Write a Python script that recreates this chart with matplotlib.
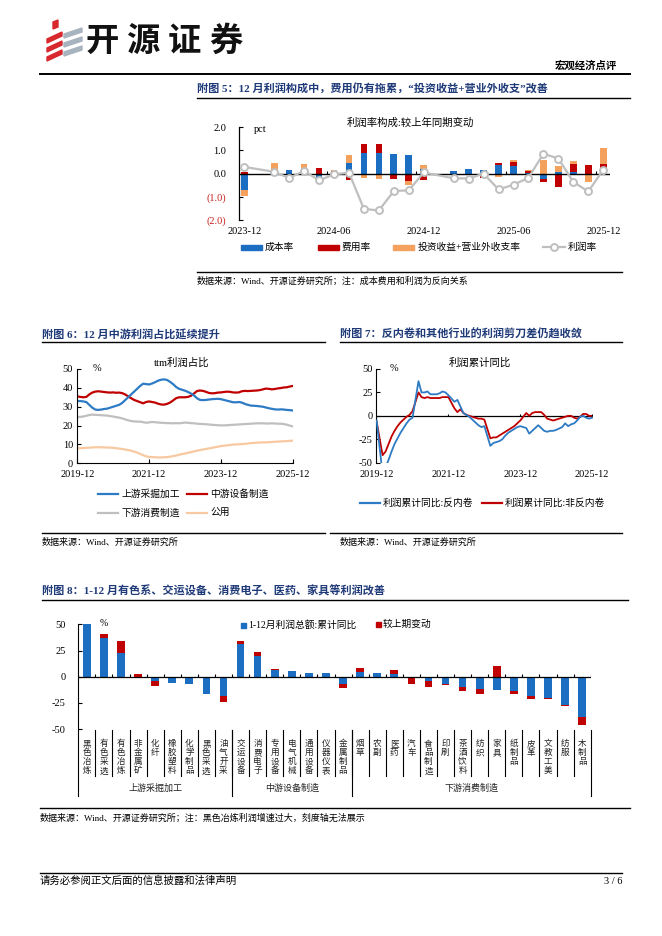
import numpy as np
import matplotlib
matplotlib.use('Agg')
import matplotlib.pyplot as plt
import matplotlib.transforms as mtransforms
from matplotlib.lines import Line2D
from matplotlib.patches import Rectangle, Polygon

W, H = 662, 936
plt.rcParams['font.family'] = ['Liberation Serif', 'Noto Sans CJK SC']
plt.rcParams['axes.unicode_minus'] = False

NAVY = '#1F3A78'
BLUE = '#1B6EC2'
RED = '#C00000'
ORANGE = '#F4A15D'
GRAY = '#BFBFBF'
PEACH = '#F8C9A0'

# ---------------- data: figure 5 ----------------
months5 = ['2023-12', '2024-02', '2024-03', '2024-04', '2024-05', '2024-06', '2024-07',
           '2024-08', '2024-09', '2024-10', '2024-11', '2024-12', '2025-02', '2025-03',
           '2025-04', '2025-05', '2025-06', '2025-07', '2025-08', '2025-09', '2025-10',
           '2025-11', '2025-12']
cost5 = [-0.72, 0.08, 0.15, 0.05, -0.18, 0.02, 0.46, 0.91, 0.91, 0.83, 0.81, 0.20,
         0.12, 0.22, 0.17, 0.36, 0.33, 0.02, -0.22, 0.07, 0.07, 0.00, 0.05]
expense5 = [0.07, 0.02, 0.00, 0.08, 0.26, 0.08, -0.29, 0.36, 0.39, -0.22, -0.33, -0.26,
            -0.03, 0.00, -0.20, 0.10, 0.17, 0.10, -0.12, -0.58, 0.33, 0.36, 0.38]
invest5 = [-0.26, 0.38, 0.00, 0.28, -0.20, 0.06, 0.36, -0.17, -0.25, 0.00, -0.14, 0.19,
           0.00, 0.00, 0.00, -0.15, 0.07, 0.03, 0.58, 0.26, 0.13, -0.38, 0.69]
margin5 = [0.29, 0.08, -0.19, 0.12, -0.29, -0.03, 0.04, -1.52, -1.59, -0.75, -0.72, 0.05,
           -0.20, -0.21, 0.00, -0.68, -0.48, -0.18, 0.86, 0.65, -0.36, -0.77, 0.17]
ticks5 = ['2023-12', '2024-06', '2024-12', '2025-06', '2025-12']

# ---------------- data: figure 6 (2019-12 .. 2025-12 monthly) ----------------
up6 = [33, 33, 32.8, 32.5, 31, 29.5, 28.5, 28.3, 28.5, 28.8, 29, 29.5, 30, 30.5, 31, 32,
       33.5, 35, 36.5, 38, 39.5, 41, 42.2, 42, 41.8, 42.3, 43, 43.8, 44.3, 44.5, 44.2, 43.2,
       42, 40.5, 39.5, 39, 38.5, 37.8, 37, 36, 34.5, 33.6, 33.5, 33.6, 33.8, 34, 34.1, 34.2,
       34, 33.6, 33.2, 32.8, 32.4, 32.3, 32.5, 32.2, 31.5, 31, 30.6, 30.5, 30.4, 30.2, 30,
       29.6, 29.2, 28.9, 28.6, 28.5, 28.6, 28.5, 28.3, 28.2, 28]
mid6 = [35.5, 35.2, 35, 35.2, 36.5, 37.5, 38, 38.2, 38, 37.8, 37.6, 37.5, 37.6, 37.4, 37.5,
        37.2, 36.5, 35.5, 34.5, 33.6, 33, 32.4, 31.8, 32.5, 32.8, 32.5, 32.2, 31.6, 31.2,
        31.1, 31.5, 32.2, 33.3, 34.5, 35, 35, 35, 35.2, 35.8, 37, 38.3, 38.6, 38.4, 37.9,
        37.3, 37.1, 37.2, 37.5, 37.6, 37.8, 38, 37.9, 37.6, 37.5, 37.6, 38.2, 38.4, 38.3,
        38.4, 38.5, 38.6, 38.8, 39.2, 39.6, 39.5, 39.2, 39.4, 39.7, 39.9, 40.2, 40.3, 40.7, 41]
down6 = [24.5, 24.6, 24.8, 25.2, 25.6, 25.8, 25.7, 25.6, 25.5, 25.4, 25.3, 25, 24.8, 24.5,
         24.2, 23.8, 23.3, 22.8, 22.4, 22.2, 22.1, 22.1, 21.8, 21.5, 21.7, 21.9, 21.8, 21.6,
         21.5, 21.4, 21.3, 21.3, 21.2, 21.3, 21.2, 21.4, 21.6, 21.5, 21.3, 21.2, 21, 20.9,
         20.8, 20.7, 20.6, 20.4, 20.3, 20.2, 20.1, 20.1, 20.2, 20.3, 20.4, 20.5, 20.6, 20.7,
         20.8, 20.9, 21, 21.1, 21.2, 21.2, 21.2, 21.1, 21.1, 21.2, 21.1, 21, 21, 20.8, 20.5,
         20, 19.6]
util6 = [8, 8, 8.1, 8.2, 8.3, 8.4, 8.5, 8.5, 8.5, 8.4, 8.4, 8.3, 8.2, 8, 7.8, 7.6, 7.3, 7,
         6.7, 6.2, 5.7, 5.0, 4.3, 3.7, 3.4, 3.3, 3.2, 3.1, 3.1, 3.2, 3.3, 3.5, 3.8, 4.1, 4.5,
         4.9, 5.2, 5.6, 5.9, 6.3, 6.7, 7, 7.3, 7.6, 7.9, 8.2, 8.5, 8.8, 9.1, 9.3, 9.5, 9.7,
         9.9, 10, 10.1, 10.2, 10.3, 10.5, 10.7, 10.8, 10.9, 11, 11.1, 11.1, 11.2, 11.3, 11.4,
         11.5, 11.6, 11.7, 11.8, 11.9, 12]
ticks6 = ['2019-12', '2021-12', '2023-12', '2025-12']

# ---------------- data: figure 7 (None = January, not published) ----------------
anti7 = [-5, None, -62, -55, -47, -38, -30, -24, -18, -13, -8, -4, -2, None, 37, 25, 25, 26,
         23, 23, 23, 24, 26, 25, 22, None, 15, 17, 10, 3, 1, -1, -4, -7, -10, -12, -11, None,
         -32, -29, -28, -27, -25, -21, -18, -16, -14, -12, -11, None, -13, -19, -16, -13, -10,
         -13, -16, -17, -16, -16, -15, None, -12, -8, -11, -9, -8, -5, -1, 0, -2, -3, -2]
other7 = [-6, None, -42, -38, -30, -22, -16, -11, -7, -4, -1, 1, 5, None, 25, 20, 19, 20, 19,
          19, 19, 19, 20, 20, 20, None, 8, 4, 7, 3, 1, 0, -1, -2, -3, -3, -4, None, -24, -23,
          -23, -21, -19, -17, -15, -13, -11, -8, -5, None, 3, 0, 3, 4, 4, 4, 1, -3, -4, -5,
          -4, None, -2, -1, 0, 0, -2, -3, -1, 2, 2, 0, 0]

# ---------------- data: figure 8 ----------------
cats8 = ['黑色冶炼', '有色采选', '有色冶炼', '非金属矿', '化纤', '橡胶塑料', '化学制品', '黑色采选',
         '油气开采', '交运设备', '消费电子', '专用设备', '电气机械', '通用设备', '仪器仪表', '金属制品',
         '烟草', '农副', '医药', '汽车', '食品制造', '印刷', '茶酒饮料', '纺织', '家具', '纸制品',
         '皮革', '文教工美', '纺服', '木制品']
cum8 = [150, 36.5, 23, -1.2, -4.5, -5.8, -7.4, -16.1, -18.7, 30.8, 19.5, 6.2, 5.5, 4.0, 3.4,
        -7.1, 4.5, 3.2, 2.8, -0.5, -4.5, -6.7, -9.7, -11.9, -12.5, -13.9, -18.4, -20.6, -27.4,
        -38.7]
chg8 = [0, 3.8, 11.5, 2.8, -3.9, 0, 0, 0, -5.5, 3.7, 4.5, 0.7, 0.3, 0, 0.3, -3.5, 3.6, -1.3,
        3.6, -6.5, -5.2, -1.4, -4.2, -4.2, 10.6, -2.9, -2.6, -0.7, -0.6, -7.4]
groups8 = ['上游采掘加工', '中游设备制造', '下游消费制造']
group_sizes8 = [9, 7, 14]

fig = plt.figure(figsize=(W / 100, H / 100), dpi=100)


def fx(x):
    return x / W


def fy(y):
    return 1 - y / H


def axes_px(x0, y0, x1, y1):
    return fig.add_axes([fx(x0), fy(y1), (x1 - x0) / W, (y1 - y0) / H])


def text_px(x, y, s, **kw):
    kw.setdefault('va', 'center')
    kw.setdefault('fontsize', 7)
    return fig.text(fx(x), fy(y), s, **kw)


def hline_px(y, x0, x1, lw=1.0, color='black'):
    fig.add_artist(Line2D([fx(x0), fx(x1)], [fy(y), fy(y)], lw=lw, color=color))


def patch_px(x, y, w, h, color):
    fig.add_artist(Rectangle((fx(x), fy(y + h / 2)), w / W, h / H, color=color,
                             transform=fig.transFigure))


def line_key_px(x0, x1, y, color, marker=None):
    fig.add_artist(Line2D([fx(x0), fx(x1)], [fy(y), fy(y)], lw=1.6, color=color))
    if marker:
        fig.add_artist(Line2D([fx((x0 + x1) / 2)], [fy(y)], marker='o', ms=5, mfc='white',
                              mec=color, mew=1.4, color=color))


def month_index(s, base):
    y, m = map(int, s.split('-'))
    by, bm = map(int, base.split('-'))
    return (y - by) * 12 + m - bm


# ---------------- page header ----------------
for k in range(3):
    yc = 33 + 9 * k
    fig.add_artist(Polygon([(fx(47), fy(yc + 6)), (fx(62), fy(yc - 1)), (fx(62), fy(yc + 3)),
                            (fx(47), fy(yc + 10))], closed=True, color='#D8282E'))
    fig.add_artist(Polygon([(fx(64), fy(yc + 1)), (fx(82), fy(yc - 5)), (fx(82), fy(yc - 1)),
                            (fx(64), fy(yc + 5))], closed=True, color='#A7B3BE'))
fig.add_artist(Polygon([(fx(53), fy(22)), (fx(58), fy(20)), (fx(58), fy(27)), (fx(53), fy(29))],
                       closed=True, color='#D8282E'))
for ch, xc in zip('开源证券', [102, 143, 184, 226]):
    text_px(xc, 41, ch, fontsize=24, fontweight='bold', ha='center',
            family='Noto Sans CJK SC', color='#111111')
text_px(617, 66, '宏观经济点评', fontsize=7.5, fontweight='bold', ha='right')
hline_px(74, 40, 630, lw=1.4)

# ---------------- figure 5 ----------------
text_px(197, 89, '附图 5：12 月利润构成中，费用仍有拖累，“投资收益+营业外收支”改善',
        fontsize=8, fontweight='bold', color=NAVY)
hline_px(98, 197, 630, lw=1.0)

ax5 = axes_px(239, 127.3, 610, 220)
x5 = np.array([month_index(s, months5[0]) for s in months5])
pos = np.zeros(len(x5))
neg = np.zeros(len(x5))
for vals, col in [(cost5, BLUE), (expense5, RED), (invest5, ORANGE)]:
    v = np.array(vals)
    bottom = np.where(v >= 0, pos, neg)
    ax5.bar(x5, v, 0.45, bottom=bottom, color=col, zorder=2)
    pos = pos + np.clip(v, 0, None)
    neg = neg + np.clip(v, None, 0)
ax5.axhline(0, color='black', lw=1.0, zorder=3)
ax5.plot(x5, margin5, color=GRAY, lw=1.6, marker='o', ms=5, mfc='white', mec=GRAY, mew=1.4,
         zorder=4)
tx5 = np.array([month_index(s, months5[0]) for s in ticks5])
ax5.vlines(tx5[1:] - 0.5, 0, 0.12, color='black', lw=0.8, zorder=3)
ax5.set_xlim(-0.35, 24.45)
ax5.set_ylim(-2, 2)
ax5.set_xticks(tx5)
ax5.set_xticklabels(ticks5, fontsize=7.5)
ax5.set_yticks([2, 1, 0, -1, -2])
ylab5 = ax5.set_yticklabels(['2.0', '1.0', '0.0', '(1.0)', '(2.0)'], fontsize=7.5)
for t, v in zip(ylab5, [2, 1, 0, -1, -2]):
    if v < 0:
        t.set_color('#C8201E')
for s in ['top', 'right', 'bottom']:
    ax5.spines[s].set_visible(False)
ax5.spines['left'].set_linewidth(0.9)
ax5.tick_params(axis='x', length=0, pad=5)
ax5.tick_params(axis='y', direction='in', length=3, width=0.8, pad=9)
ax5.patch.set_alpha(0)
text_px(254, 130, 'pct', fontsize=7.5)
text_px(410, 123, '利润率构成:较上年同期变动', fontsize=7.5, ha='center')
patch_px(241, 247, 21, 5, BLUE)
text_px(265, 247, '成本率', fontsize=7)
patch_px(318, 247, 21, 5, RED)
text_px(342, 247, '费用率', fontsize=7)
patch_px(393, 247, 21, 5, ORANGE)
text_px(418, 247, '投资收益+营业外收支率', fontsize=7)
line_key_px(543, 565, 247, GRAY, marker=True)
text_px(568, 247, '利润率', fontsize=7)
hline_px(272, 197, 622, lw=1.0)
text_px(197, 281, '数据来源：Wind、开源证券研究所；注：成本费用和利润为反向关系', fontsize=6.5)

# ---------------- figure 6 ----------------
text_px(42, 334, '附图 6：12 月中游利润占比延续提升', fontsize=8, fontweight='bold', color=NAVY)
hline_px(342, 42, 325, lw=1.0)
ax6 = axes_px(77.3, 369, 292.7, 463.3)
x6 = np.arange(len(up6))
ax6.plot(x6, util6, color=PEACH, lw=1.6)
ax6.plot(x6, down6, color=GRAY, lw=1.6)
ax6.plot(x6, mid6, color=RED, lw=1.6)
ax6.plot(x6, up6, color='#2D7BC4', lw=1.6)
ax6.set_xlim(0, 72)
ax6.set_ylim(0, 50)
ax6.set_xticks([month_index(s, ticks6[0]) for s in ticks6])
ax6.set_xticklabels(ticks6, fontsize=7.5)
ax6.set_yticks(range(0, 51, 10))
ax6.tick_params(labelsize=7.5)
ax6.tick_params(axis='both', direction='in', length=3, width=0.8)
ax6.tick_params(axis='x', pad=5)
ax6.tick_params(axis='y', pad=3)
for s in ['top', 'right']:
    ax6.spines[s].set_visible(False)
ax6.patch.set_alpha(0)
text_px(93, 369, '%', fontsize=7.5)
text_px(182, 363, 'ttm利润占比', fontsize=7.5, ha='center')
line_key_px(98, 118, 494, '#2D7BC4')
text_px(122, 494, '上游采掘加工', fontsize=7)
line_key_px(187, 207, 494, RED)
text_px(210, 494, '中游设备制造', fontsize=7)
line_key_px(98, 118, 513, GRAY)
text_px(122, 513, '下游消费制造', fontsize=7)
line_key_px(187, 207, 513, PEACH)
text_px(210, 513, '公用', fontsize=7)
hline_px(533, 42, 325, lw=1.0)
text_px(42, 542, '数据来源：Wind、开源证券研究所', fontsize=6.5)

# ---------------- figure 7 ----------------
text_px(340, 334, '附图 7：反内卷和其他行业的利润剪刀差仍趋收敛', fontsize=8, fontweight='bold',
        color=NAVY)
hline_px(342, 340, 622, lw=1.0)
ax7 = axes_px(375.7, 369, 593, 462.7)
x7 = np.arange(len(anti7))
a7 = np.array([np.nan if v is None else v for v in anti7], dtype=float)
o7 = np.array([np.nan if v is None else v for v in other7], dtype=float)
ma = ~np.isnan(a7)
mo = ~np.isnan(o7)
ax7.axhline(0, color='black', lw=0.9, zorder=1)
ax7.plot(x7[ma], a7[ma], color='#2D7BC4', lw=1.3, zorder=3)
ax7.plot(x7[mo], o7[mo], color=RED, lw=1.3, zorder=2)
ax7.vlines([24, 48, 72], 0, 2.5, color='black', lw=0.8)
ax7.set_xlim(-0.3, 72.3)
ax7.set_ylim(-50, 50)
ax7.set_xticks([month_index(s, ticks6[0]) for s in ticks6])
ax7.set_xticklabels(ticks6, fontsize=7.5)
ax7.set_yticks([50, 25, 0, -25, -50])
ax7.tick_params(labelsize=7.5)
ax7.tick_params(axis='x', length=0, pad=5)
ax7.tick_params(axis='y', direction='in', length=3, width=0.8, pad=2)
for s in ['top', 'right', 'bottom']:
    ax7.spines[s].set_visible(False)
ax7.patch.set_alpha(0)
text_px(390, 369, '%', fontsize=7.5)
text_px(480, 363, '利润累计同比', fontsize=7.5, ha='center')
line_key_px(360, 380, 503, '#2D7BC4')
text_px(383, 503, '利润累计同比:反内卷', fontsize=7)
line_key_px(482, 502, 503, RED)
text_px(505, 503, '利润累计同比:非反内卷', fontsize=7)
hline_px(533, 330, 622, lw=1.0)
text_px(340, 542, '数据来源：Wind、开源证券研究所', fontsize=6.5)

# ---------------- figure 8 ----------------
text_px(42, 591, '附图 8：1-12 月有色系、交运设备、消费电子、医药、家具等利润改善', fontsize=8,
        fontweight='bold', color=NAVY)
hline_px(600, 42, 628, lw=1.0)
ax8 = axes_px(78.3, 624, 590.7, 729.1)
x8 = np.arange(len(cats8)) + 0.5
pos = np.zeros(len(x8))
neg = np.zeros(len(x8))
for vals, col in [(cum8, BLUE), (chg8, RED)]:
    v = np.array(vals, dtype=float)
    bottom = np.where(v >= 0, pos, neg)
    ax8.bar(x8, v, 0.45, bottom=bottom, color=col, zorder=2)
    pos = pos + np.clip(v, 0, None)
    neg = neg + np.clip(v, None, 0)
ax8.axhline(0, color='black', lw=0.9, zorder=3)
ax8.vlines(np.arange(len(cats8) + 1), 0, 2.4, color='black', lw=0.8, zorder=3)
ax8.set_xlim(0, len(cats8))
ax8.set_ylim(-50, 50.3)
ax8.set_xticks([])
ax8.set_yticks([50, 25, 0, -25, -50])
ax8.tick_params(labelsize=7.5)
ax8.tick_params(axis='y', direction='in', length=3, width=0.8, pad=9)
for s in ['top', 'right', 'bottom']:
    ax8.spines[s].set_visible(False)
ax8.patch.set_alpha(0)
bt = mtransforms.blended_transform_factory(ax8.transData, fig.transFigure)
for xc, name in zip(x8, cats8):
    ax8.text(xc, fy(739), '\n'.join(name), transform=bt, ha='center', va='top',
             fontsize=6.2, linespacing=1.02, family='Noto Sans CJK SC', color='#222222')
for b in range(1, len(cats8)):
    ax8.add_line(Line2D([b, b], [fy(730), fy(776)], transform=bt, color='black', lw=0.8,
                        clip_on=False))
edges = np.concatenate([[0], np.cumsum(group_sizes8)])
for b in edges:
    ax8.add_line(Line2D([b, b], [fy(730), fy(796)], transform=bt, color='black', lw=0.8,
                        clip_on=False))
for g, a, b in zip(groups8, edges[:-1], edges[1:]):
    ax8.text((a + b) / 2, fy(788), g, transform=bt, ha='center', va='center', fontsize=6.5,
             family='Noto Sans CJK SC', color='#222222')
text_px(100, 623, '%', fontsize=7)
patch_px(241, 625, 5, 5, BLUE)
text_px(248, 625, '1-12月利润总额:累计同比', fontsize=7)
patch_px(376, 624, 5, 5, RED)
text_px(383, 624, '较上期变动', fontsize=7)
hline_px(808, 40, 630, lw=1.0)
text_px(40, 818, '数据来源：Wind、开源证券研究所；注：黑色冶炼利润增速过大，刻度轴无法展示', fontsize=6.5)

# ---------------- footer ----------------
hline_px(873, 40, 622, lw=1.0)
text_px(40, 881, '请务必参阅正文后面的信息披露和法律声明', fontsize=7.5)
text_px(622, 881, '3 / 6', fontsize=7.5, ha='right')

fig.savefig('out.png', dpi=100)
